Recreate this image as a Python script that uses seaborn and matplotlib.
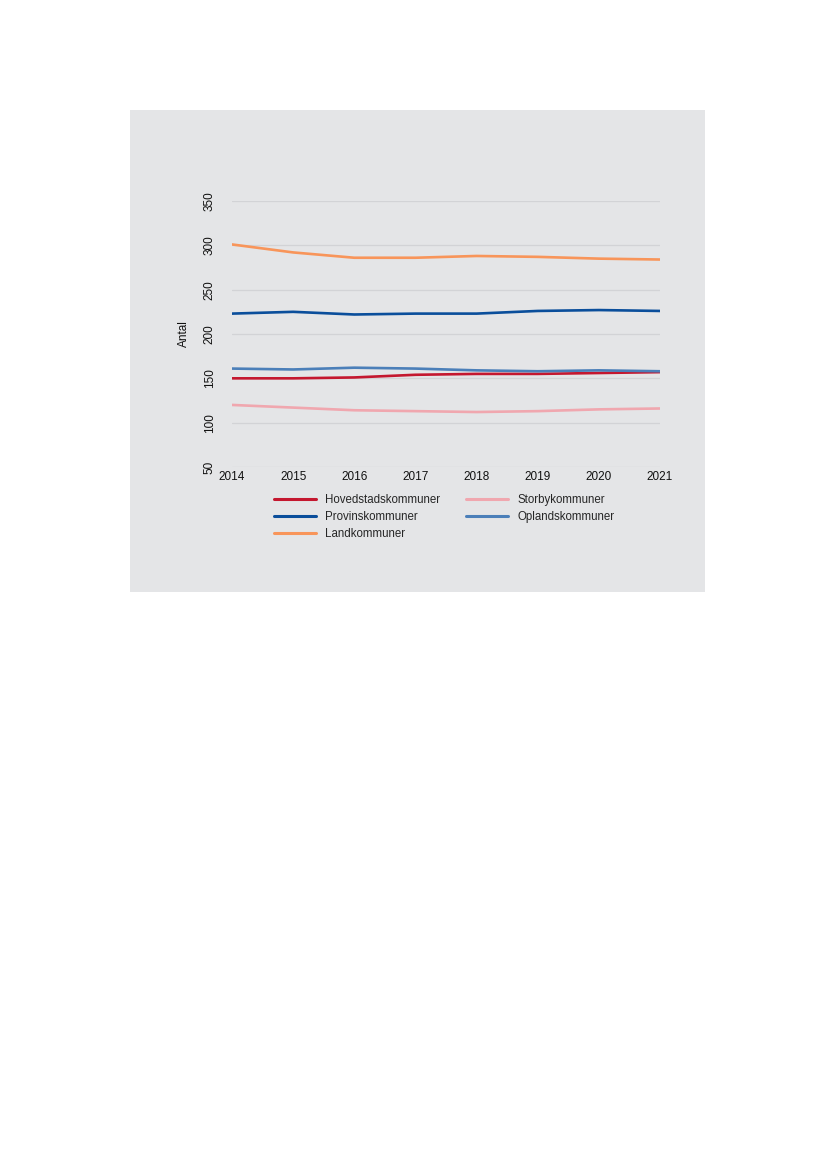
import pandas as pd
import seaborn as sns
import matplotlib.pyplot as plt
from matplotlib.patches import Rectangle

# Data
years = [2014, 2015, 2016, 2017, 2018, 2019, 2020, 2021]
hovedstad = [150, 150, 151, 154, 155, 155, 156, 157]
storby = [120, 117, 114, 113, 112, 113, 115, 116]
provins = [223, 225, 222, 223, 223, 226, 227, 226]
oplands = [161, 160, 162, 161, 159, 158, 159, 158]
land = [301, 292, 286, 286, 288, 287, 285, 284]

series = {
    "Hovedstadskommuner": hovedstad,
    "Storbykommuner": storby,
    "Provinskommuner": provins,
    "Oplandskommuner": oplands,
    "Landkommuner": land,
}
colors = {
    "Hovedstadskommuner": "#C4172F",
    "Storbykommuner": "#F0A7AF",
    "Provinskommuner": "#0A4E9B",
    "Oplandskommuner": "#4B7FB9",
    "Landkommuner": "#F8955A",
}

rows = []
for name, vals in series.items():
    for y, v in zip(years, vals):
        rows.append({"year": y, "value": v, "group": name})
df = pd.DataFrame(rows)

sns.set_style("white")
plt.rcParams["font.family"] = ["Liberation Sans", "DejaVu Sans"]

bg = "#E4E5E7"
W, H = 827, 1169
fig = plt.figure(figsize=(W / 100, H / 100), dpi=100)
fig.patch.set_facecolor("white")

# grey panel behind the chart
fig.patches.append(Rectangle((130 / W, 1 - 592 / H), 575 / W, 482 / H,
                             transform=fig.transFigure, facecolor=bg,
                             edgecolor="none", zorder=-10))

ax = fig.add_axes([232 / W, 1 - 467 / H, 428 / W, 266 / H])
ax.set_facecolor(bg)

sns.lineplot(data=df, x="year", y="value", hue="group", palette=colors,
             linewidth=1.9, ax=ax, legend=False, zorder=3)

ax.set_xlim(2014, 2021)
ax.set_ylim(50, 350)
ax.set_yticks([50, 100, 150, 200, 250, 300, 350])
ax.set_xticks(years)
ax.grid(axis="y", color="#D2D3D6", linewidth=0.9)
ax.grid(axis="x", visible=False)
for s in ax.spines.values():
    s.set_visible(False)

ax.tick_params(axis="x", length=0, pad=3, labelsize=8.5, colors="#111111")
ax.tick_params(axis="y", length=0, pad=16, labelsize=8.5, colors="#111111")
for lbl in ax.get_yticklabels():
    lbl.set_rotation(90)
    lbl.set_va("center")
    lbl.set_ha("center")

ax.set_xlabel("")
ax.set_ylabel("Antal", fontsize=8.5, labelpad=10, color="#111111")

# legend, column-major order to give two rows of pairs
order = ["Hovedstadskommuner", "Provinskommuner", "Landkommuner",
         "Storbykommuner", "Oplandskommuner"]
handles = [plt.Line2D([], [], color=colors[n], linewidth=2.2) for n in order]
fig.legend(handles, order, ncol=2, loc="upper left",
           bbox_to_anchor=(274 / W, 1 - 494 / H), frameon=False,
           fontsize=8.3, handlelength=3.6, handletextpad=0.8,
           columnspacing=2.3, labelspacing=0.45, borderpad=0,
           borderaxespad=0)

fig.savefig("out.png", dpi=100, facecolor="white")
